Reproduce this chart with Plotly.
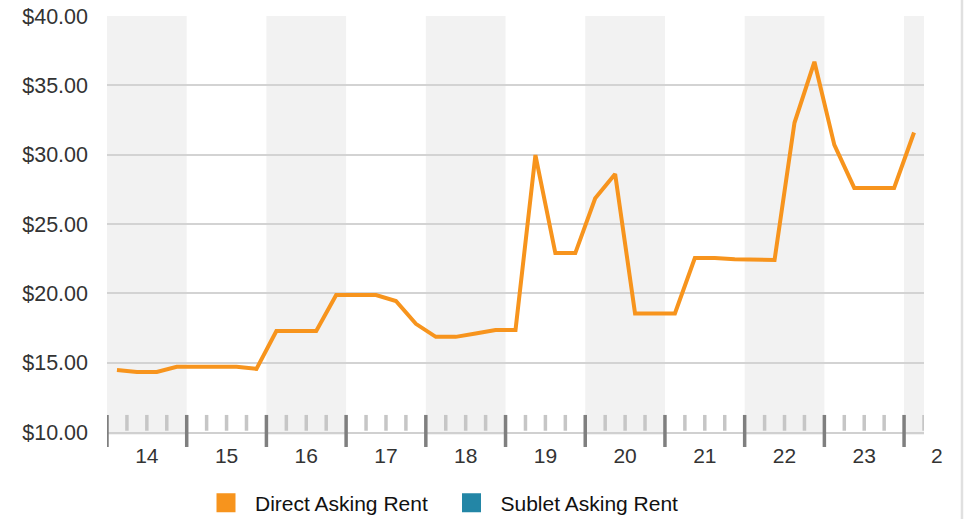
import plotly.graph_objects as go

# ---- data ----
years = list(range(2014, 2025))
year_labels = ["14", "15", "16", "17", "18", "19", "20", "21", "22", "23", "2"]
quarters = [f"{y} Q{q}" for y in range(2014, 2024) for q in range(1, 5)] + ["2024 Q1"]
direct_rent = [14.47, 14.33, 14.33, 14.70, 14.70, 14.70, 14.70, 14.55,
               17.28, 17.28, 17.28, 19.88, 19.88, 19.88, 19.45, 17.80,
               16.86, 16.86, 17.10, 17.35, 17.35, 29.97, 22.90, 22.90,
               26.85, 28.60, 18.55, 18.55, 18.55, 22.55, 22.55, 22.45,
               22.45, 22.40, 32.30, 36.70, 30.70, 27.60, 27.60, 27.60,
               31.60]
sublet_rent = []
y_ticks = [10, 15, 20, 25, 30, 35, 40]
y_tick_labels = ["$10.00", "$15.00", "$20.00", "$25.00", "$30.00", "$35.00", "$40.00"]

ORANGE = "#f7941d"
TEAL = "#2386a6"
FONT = "Liberation Sans, Arial, sans-serif"


def qpos(label):
    y, q = label.split(" Q")
    return int(y) + (int(q) - 0.5) / 4


x_vals = [qpos(q) for q in quarters]
x_min = 2014
x_max = x_vals[-1] + 0.125

fig = go.Figure()
fig.add_trace(go.Scatter(x=x_vals, y=direct_rent, mode="lines",
                         line=dict(color=ORANGE, width=4),
                         showlegend=False, hoverinfo="skip"))
fig.add_trace(go.Scatter(x=[None], y=[None], mode="markers", name="Direct Asking Rent",
                         marker=dict(symbol="square", size=16, color=ORANGE,
                                     line=dict(color=ORANGE, width=3))))
fig.add_trace(go.Scatter(x=[None] if not sublet_rent else x_vals[:len(sublet_rent)],
                         y=[None] if not sublet_rent else sublet_rent,
                         mode="markers", name="Sublet Asking Rent",
                         marker=dict(symbol="square", size=16, color=TEAL,
                                     line=dict(color=TEAL, width=3))))

shapes = []
# alternating year bands
for i, yr in enumerate(years):
    if i % 2 == 0:
        shapes.append(dict(type="rect", xref="x", yref="paper",
                           x0=yr, x1=min(yr + 1, x_max), y0=-0.0075, y1=1,
                           fillcolor="#f2f2f2", line=dict(width=0), layer="below"))
# quarter ticks
for yr in years:
    for q in range(4):
        xv = yr + q / 4
        if xv > x_max + 1e-9:
            continue
        if q == 0:
            shapes.append(dict(type="line", xref="x", yref="paper", x0=xv, x1=xv,
                               y0=-0.036, y1=0.041, line=dict(color="#7f7f7f", width=3.5)))
        else:
            shapes.append(dict(type="line", xref="x", yref="paper", x0=xv, x1=xv,
                               y0=0.003, y1=0.041, line=dict(color="#c6c6c6", width=3.5)))
# right border line
shapes.append(dict(type="line", xref="paper", yref="paper", x0=1.0465, x1=1.0465,
                   y0=-0.25, y1=1.05, layer="above",
                   line=dict(color="#e0e0e0", width=2.5)))

tick_x = [y + 0.5 for y in years[:-1]]
last_label_x = (years[-1] + 0.5 - x_min) / (x_max - x_min)

fig.update_layout(
    width=968, height=519,
    margin=dict(l=107, r=44, t=16, b=87),
    paper_bgcolor="white", plot_bgcolor="rgba(0,0,0,0)",
    font=dict(family=FONT, size=21, color="#333333"),
    shapes=shapes,
    xaxis=dict(range=[x_min, x_max], tickvals=tick_x, ticktext=year_labels[:-1],
               showgrid=False, zeroline=False, showline=True, linecolor="#d0d0d0",
               linewidth=2, ticks="", ticklabelstandoff=4, automargin=False,
               tickfont=dict(size=21, color="#333333")),
    yaxis=dict(range=[10, 40], tickvals=y_ticks, ticktext=y_tick_labels,
               showgrid=True, gridcolor="#d3d3d3", gridwidth=1.5, zeroline=False,
               showline=False, ticks="", ticklabelstandoff=18, automargin=False,
               tickfont=dict(size=21.5, color="#333333")),
    legend=dict(orientation="h", xref="container", x=197 / 968, xanchor="left",
                yref="container", y=(519 - 503) / 519, yanchor="middle",
                font=dict(size=21, color="#111111"), itemwidth=48,
                entrywidth=182.5, entrywidthmode="pixels",
                bgcolor="rgba(0,0,0,0)"),
    showlegend=True,
    annotations=[dict(xref="paper", yref="paper", x=last_label_x, y=-0.0553,
                      xanchor="right", yanchor="middle", showarrow=False,
                      text=year_labels[-1], borderpad=0,
                      font=dict(family=FONT, size=21, color="#333333"))],
)

fig.write_html("out.html", config={"displayModeBar": False},
               post_script="document.body.style.margin='0';")
